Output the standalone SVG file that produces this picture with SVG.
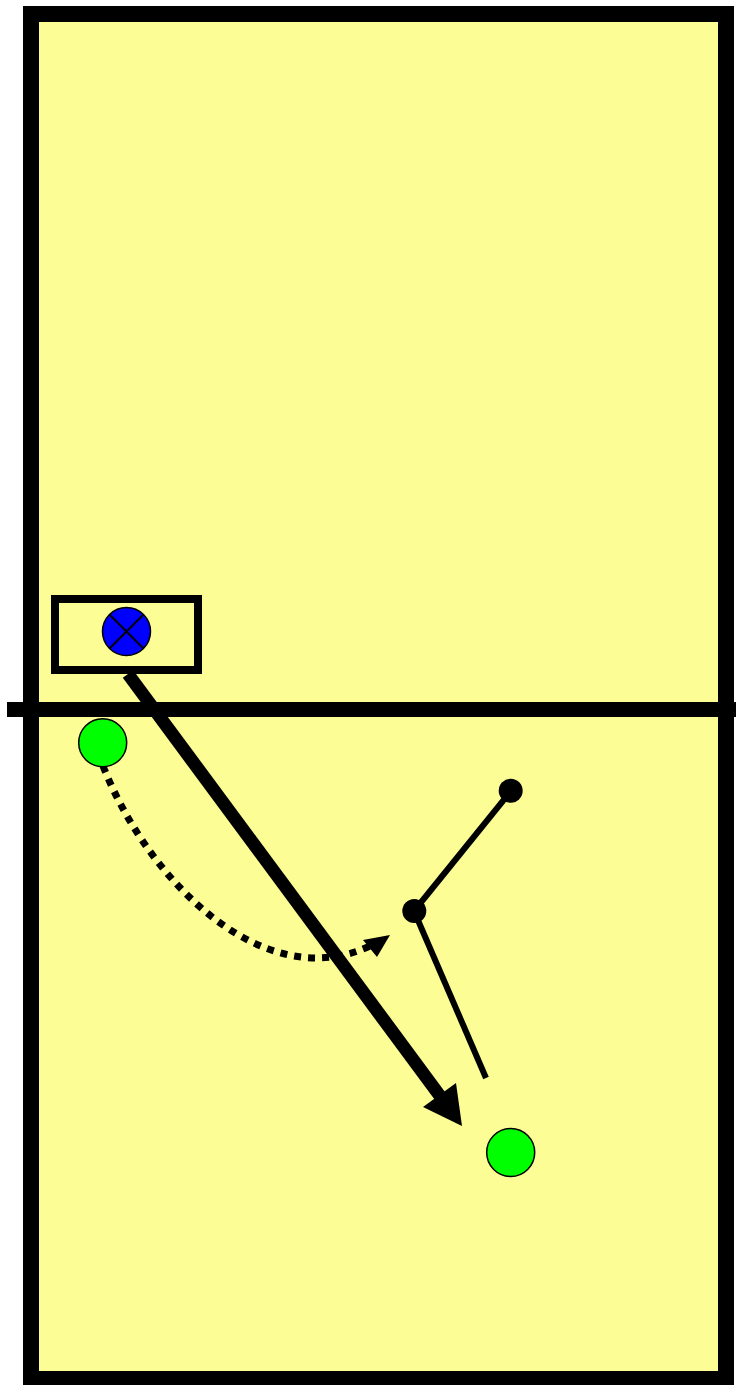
<svg xmlns="http://www.w3.org/2000/svg" width="736" height="1385" viewBox="0 0 736 1385">
<defs>
<style>
.court{fill:#fdfd96;stroke:#000;stroke-width:16}
.line{stroke:#000;fill:none}
.player{fill:#00ff00;stroke:#000;stroke-width:1.5}
.dot{fill:#000}
</style>
</defs>
<rect width="736" height="1385" fill="#fff"/>
<g id="court">
<rect class="court" x="31" y="14" width="695" height="1365"/>
<line class="line" x1="7" y1="709.5" x2="736" y2="709.5" stroke-width="15"/>
</g>
<g id="box">
<rect x="55" y="599" width="143" height="71" fill="none" stroke="#000" stroke-width="8"/>
</g>
<g id="connectors">
<line class="line" x1="128" y1="674" x2="440" y2="1096" stroke-width="13"/>
<polygon points="462,1126 423,1107 456,1083" fill="#000"/>
<path class="line" d="M103,766 C150,885 265,995 370,946" stroke-width="7" stroke-dasharray="7,7"/>
<polygon points="390,935 363,940 377,957" fill="#000"/>
<line class="line" x1="414" y1="911" x2="511" y2="791" stroke-width="6"/>
<line class="line" x1="414" y1="911" x2="486" y2="1078" stroke-width="6"/>
</g>
<g id="keeper">
<circle cx="126.5" cy="631.5" r="24" fill="#0000ff" stroke="#000" stroke-width="1.5"/>
<line x1="109.5" y1="614.5" x2="143.5" y2="648.5" stroke="#000" stroke-width="2"/>
<line x1="143.5" y1="614.5" x2="109.5" y2="648.5" stroke="#000" stroke-width="2"/>
</g>
<g id="player1"><circle class="player" cx="102.7" cy="742.7" r="24"/></g>
<g id="player2"><circle class="player" cx="510.7" cy="1152.5" r="24"/></g>
<g id="dot1"><circle class="dot" cx="510.7" cy="790.7" r="12"/></g>
<g id="dot2"><circle class="dot" cx="414.3" cy="911" r="12"/></g>
</svg>
